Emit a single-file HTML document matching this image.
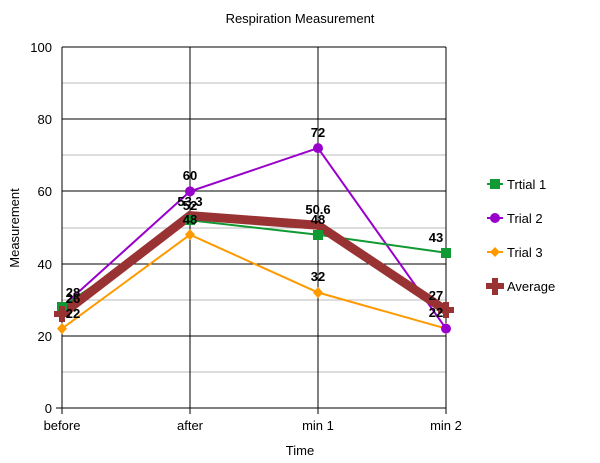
<!DOCTYPE html>
<html><head><meta charset="utf-8"><style>body{margin:0;background:#fff}svg{display:block;font-family:"Liberation Sans",sans-serif}</style></head><body>
<svg width="600" height="463" viewBox="0 0 600 463">
<text x="300" y="23" font-size="13" text-anchor="middle">Respiration Measurement</text>
<g stroke="#bbb" stroke-width="1">
<line x1="62" x2="446" y1="83" y2="83"/><line x1="62" x2="446" y1="155" y2="155"/><line x1="62" x2="446" y1="228" y2="228"/><line x1="62" x2="446" y1="300" y2="300"/><line x1="62" x2="446" y1="372" y2="372"/>
</g>
<g stroke="#000" stroke-width="1">
<line x1="62" x2="446" y1="47" y2="47"/><line x1="62" x2="446" y1="119" y2="119"/><line x1="62" x2="446" y1="191" y2="191"/><line x1="62" x2="446" y1="264" y2="264"/><line x1="62" x2="446" y1="336" y2="336"/><line x1="56" x2="446" y1="408" y2="408"/>
<line x1="62" x2="62" y1="47" y2="414"/><line x1="190" x2="190" y1="47" y2="414"/><line x1="318" x2="318" y1="47" y2="414"/><line x1="446" x2="446" y1="47" y2="414"/>
</g>
<g font-size="13" text-anchor="end"><text x="52" y="413">0</text><text x="52" y="341">20</text><text x="52" y="269">40</text><text x="52" y="196">60</text><text x="52" y="124">80</text><text x="52" y="52">100</text></g>
<g font-size="13" text-anchor="middle"><text x="62" y="430">before</text><text x="190" y="430">after</text><text x="318" y="430">min 1</text><text x="446" y="430">min 2</text></g>
<text x="300" y="455" font-size="13" text-anchor="middle">Time</text>
<text transform="translate(19,228) rotate(-90)" font-size="13" text-anchor="middle">Measurement</text>
<polyline fill="none" stroke="#f90" stroke-width="2" points="62,328.6 190,234.7 318,292.5 446,328.6"/>
<polyline fill="none" stroke="#90c" stroke-width="2" points="62,306.9 190,191.4 318,148.1 446,328.6"/>
<polyline fill="none" stroke="#193" stroke-width="2" points="62,306.9 190,220.3 318,234.7 446,252.8"/>
<polyline fill="none" stroke="#933" stroke-width="9" points="62,314.1 190,215.6 318,225.3 446,310.5"/>
<g fill="#f90"><path d="M62,323l5,5.6-5,5.6-5-5.6z"/><path d="M190,229l5,5.6-5,5.6-5-5.6z"/><path d="M318,287l5,5.6-5,5.6-5-5.6z"/><path d="M446,323l5,5.6-5,5.6-5-5.6z"/></g>
<g fill="#90c"><circle cx="190" cy="191.4" r="5"/><circle cx="318" cy="148.1" r="5"/><circle cx="446" cy="328.6" r="5"/></g>
<g fill="#193"><rect x="57" y="302" width="10" height="10"/><rect x="185" y="215" width="10" height="10"/><rect x="313" y="230" width="10" height="10"/><rect x="441" y="248" width="10" height="10"/></g>
<g fill="#933"><path d="M59,306h6v5h5v6h-5v5h-6v-5h-5v-6h5z"/><path d="M443,302h6v5h5v6h-5v5h-6v-5h-5v-6h5z"/></g>
<g font-size="13" font-weight="bold" text-anchor="middle">
<text x="73" y="297">28</text><text x="73" y="303">26</text><text x="73" y="318">22</text>
<text x="190" y="180">60</text><text x="190" y="206">53.3</text><text x="190" y="210">52</text><text x="190" y="224">48</text>
<text x="318" y="137">72</text><text x="318" y="214">50.6</text><text x="318" y="224">48</text><text x="318" y="281">32</text>
<text x="436" y="242">43</text><text x="436" y="300">27</text><text x="436" y="317">22</text>
</g>
<g font-size="13">
<line x1="487" x2="503" y1="184" y2="184" stroke="#193" stroke-width="2"/><rect x="490" y="179" width="10" height="10" fill="#193"/><text x="507" y="189">Trtial 1</text>
<line x1="487" x2="503" y1="218" y2="218" stroke="#90c" stroke-width="2"/><circle cx="495" cy="218" r="5" fill="#90c"/><text x="507" y="223">Trial 2</text>
<line x1="487" x2="503" y1="252" y2="252" stroke="#f90" stroke-width="2"/><path d="M495,247l5,5-5,5-5-5z" fill="#f90"/><text x="507" y="257">Trial 3</text>
<line x1="486" x2="504" y1="286" y2="286" stroke="#933" stroke-width="6"/><path d="M492,278h6v5h6v6h-6v6h-6v-6h-6v-6h6z" fill="#933"/><text x="507" y="291">Average</text>
</g>
</svg>
</body></html>
